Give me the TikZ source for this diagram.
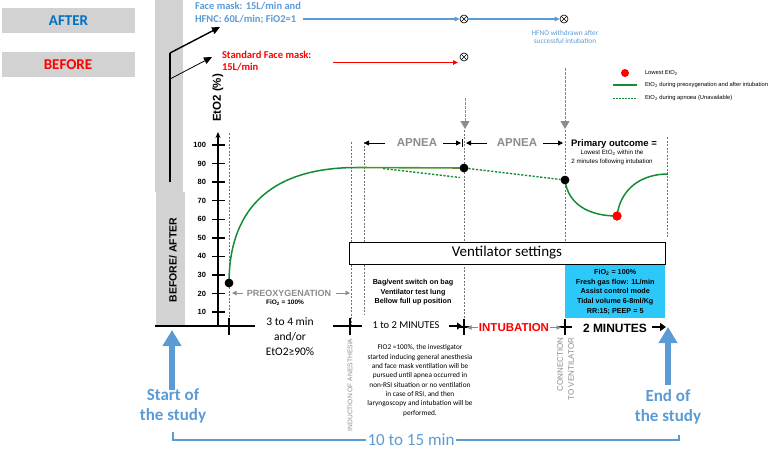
\documentclass[tikz,border=0pt]{standalone}
\usepackage{fontspec}
\setmainfont{Liberation Sans}
\newfontfamily\calibri{Carlito}
\usetikzlibrary{arrows.meta}
\definecolor{ablue}{RGB}{0,112,192}
\definecolor{lblue}{RGB}{91,155,213}
\definecolor{boxgray}{RGB}{210,210,210}
\definecolor{tgray}{RGB}{140,140,140}
\definecolor{ggray}{RGB}{115,115,115}
\definecolor{cgreen}{RGB}{20,140,55}
\definecolor{ogreen}{RGB}{80,145,45}
\definecolor{cyanbox}{RGB}{45,200,250}
\newcommand\fsz[2]{\fontsize{#1}{#2}\selectfont}
\begin{document}
\begin{tikzpicture}[x=1pt,y=-1pt,
  graybox/.style={fill=boxgray, minimum width=133pt, minimum height=25pt, inner sep=0pt, font=\calibri\bfseries\fsz{15}{18}},
  dotb/.style={circle, fill=black, minimum size=8.5pt, inner sep=0pt},
  dotr/.style={circle, fill=red, minimum size=9pt, inner sep=0pt},
  vguide/.style={ggray, line width=0.6pt, dash pattern=on 2pt off 1.5pt},
  etcurve/.style={cgreen, line width=1.5pt},
  etdash/.style={cgreen, line width=1.4pt, dash pattern=on 2.2pt off 1.6pt},
  baseln/.style={line width=2pt, black},
  crossmk/.style={line width=1.6pt, black},
  otim/.style={circle, draw=black, line width=0.6pt, minimum size=8pt, inner sep=0pt,
    path picture={\draw[line width=0.6pt] (path picture bounding box.north west) -- (path picture bounding box.south east) (path picture bounding box.north east) -- (path picture bounding box.south west);}},
  gtip/.style={-{Triangle[length=5pt,width=4.5pt]}},
  txt/.style={inner sep=0pt, outer sep=0pt},
]
\useasboundingbox (0,0) rectangle (784,453);

% --- before / after boxes
\node[graybox, text=ablue] (after) at (68.5,20.5) {AFTER};
\node[graybox, text=red] (before) at (68,64.5) {BEFORE};

% --- tall gray bar
\fill[boxgray] (155,0) rectangle (183,192);
\fill[boxgray] (156,192) rectangle (185,326);
\coordinate (bj) at (170,182);
\coordinate (bk) at (170,53);
\coordinate (bk2) at (170,79);
\coordinate (aftTip) at (220,27);
\coordinate (befTip) at (212,57);
\draw[line width=1.4pt] (bj) -- (bk);
\draw[line width=1.4pt, -{Triangle[length=8pt,width=7pt]}] (bk) -- (aftTip);
\draw[line width=0.8pt, -{Triangle[length=8pt,width=7pt]}] (bk2) -- (befTip);
\node[txt, rotate=90, font=\bfseries\fsz{10.5}{12}] (ba) at (173,260) {BEFORE/ AFTER};
\node[txt, rotate=90, font=\bfseries\fsz{11.5}{13}] (eto) at (218,98) {EtO2 (\%)};

% --- top labels and lines
\node[txt, anchor=west, align=left, text=lblue, font=\calibri\bfseries\fsz{10.5}{13}] (fm) at (195,13.5) {Face mask: 15L/min and\\HFNC: 60L/min; FiO2=1};
\node[txt, anchor=west, align=left, text=red, font=\calibri\bfseries\fsz{10.5}{12}] (sfm) at (222,61) {Standard Face mask:\\15L/min};
\node[otim] (x1) at (464,19) {};
\node[otim] (x2) at (564,19) {};
\node[otim] (x3) at (464,57) {};
\coordinate (bl0) at (303,19);
\coordinate (rl0) at (333,62.5);
\coordinate (rl1) at (458,62.5);
\draw[lblue, line width=1.3pt, gtip] (bl0) -- (x1);
\draw[lblue, line width=1.3pt, gtip] (x1) -- (x2);
\draw[red, line width=1.3pt, gtip] (rl0) -- (rl1);
\node[txt, align=center, text=lblue, font=\calibri\fsz{7.3}{8.5}] (hfno) at (565,37) {HFNO withdrawn after\\successful intubation};

% --- legend
\node[dotr, minimum size=8pt] (lgdot) at (625,73) {};
\node[txt, anchor=west, font=\fsz{5.8}{7}] (lg1) at (645,73) {Lowest EtO\textsubscript{2}};
\coordinate (lga0) at (613,85); \coordinate (lga1) at (637,85);
\coordinate (lgb0) at (613,98); \coordinate (lgb1) at (637,98);
\draw[etcurve, line width=1.2pt] (lga0) -- (lga1);
\draw[etdash, line width=1pt, dash pattern=on 1.8pt off 1.2pt] (lgb0) -- (lgb1);
\node[txt, anchor=west, font=\fsz{5.8}{7}] (lg2) at (645,85) {EtO\textsubscript{2} during preoxygenation and after intubation};
\node[txt, anchor=west, font=\fsz{5.8}{7}] (lg3) at (645,98) {EtO\textsubscript{2} during apnoea (Unavailable)};

% --- gray dashed arrows from top
\coordinate (ga0) at (465,98); \coordinate (ga1) at (465,129);
\coordinate (gb0) at (565,68); \coordinate (gb1) at (565,129);
\draw[tgray, line width=1pt, dash pattern=on 2.5pt off 1.5pt, -{Triangle[length=8pt,width=9pt]}] (ga0) -- (ga1);
\draw[tgray, line width=1pt, dash pattern=on 2.5pt off 1.5pt, -{Triangle[length=8pt,width=9pt]}] (gb0) -- (gb1);

% --- vertical guides
\draw[vguide] (229,133) -- (229,326);
\draw[vguide] (351,142) -- (351,326);
\draw[vguide] (364,142) -- (364,315);
\draw[vguide] (464,130) -- (464,318);
\draw[vguide] (565,130) -- (565,318);
\draw[vguide] (667,137) -- (667,237);

% --- y axis
\draw[line width=1.5pt, -{Stealth[length=6pt,width=5pt]}] (218,326) -- (218,132);
\foreach \v in {10,20,...,100} {
  \pgfmathsetmacro\yy{330.6-1.856*\v}
  \draw[line width=1.4pt] (212,\yy) -- (225,\yy);
  \node[txt, anchor=east, font=\bfseries\fsz{7.5}{8}] (yl\v) at (206,\yy) {\v};
}

% --- curves
\node[dotb] (d0) at (229,283) {};
\node[dotb] (d1) at (464,168) {};
\node[dotb] (d2) at (565,180) {};
\node[dotr] (dr) at (617,216) {};
\coordinate (c1) at (357,167.5);
\coordinate (c2) at (668,174);
\coordinate (dd0) at (383,168.5);
\coordinate (dd1) at (460,177.5);
\draw[etcurve] (d0.center) .. controls (229,225) and (255,167.5) .. (c1);
\draw[ogreen, line width=1.6pt] (c1) -- (d1.center);
\draw[etdash] (dd0) -- (dd1);
\draw[etdash] (d1) -- (d2);
\draw[etcurve] (d2.center) .. controls (568,205) and (590,216) .. (dr.center);
\draw[etcurve] (dr.center) .. controls (620,190) and (640,174) .. (c2);
\node[dotb] at (d0) {};
\node[dotb] at (d1) {};
\node[dotb] at (d2) {};
\node[dotr] at (dr) {};

% --- APNEA labels
\node[txt, text=tgray, font=\bfseries\fsz{11.5}{13}] (ap1) at (417,143) {APNEA};
\node[txt, text=tgray, font=\bfseries\fsz{11.5}{13}] (ap2) at (517,143) {APNEA};
\coordinate (a1l) at (385,143); \coordinate (a1lt) at (364,143);
\coordinate (a1r) at (443,143); \coordinate (a1rt) at (461,143);
\coordinate (a2l) at (487,143); \coordinate (a2lt) at (466,143);
\coordinate (a2r) at (543,143); \coordinate (a2rt) at (563,143);
\draw[line width=0.9pt, -{Triangle[length=5pt,width=5pt]}] (a1l) -- (a1lt);
\draw[line width=0.9pt, -{Triangle[length=5pt,width=5pt]}] (a1r) -- (a1rt);
\draw[line width=0.9pt, -{Triangle[length=5pt,width=5pt]}] (a2l) -- (a2lt);
\draw[line width=0.9pt, -{Triangle[length=5pt,width=5pt]}] (a2r) -- (a2rt);
\draw[line width=0.9pt] (462,139) -- (462,147);

\node[txt, font=\bfseries\fsz{9.5}{11}] (po) at (614,144) {Primary outcome =};
\node[txt, align=center, font=\fsz{6.2}{9}] (po2) at (612,157.5) {Lowest EtO\textsubscript{2} within the\\2 minutes following intubation};

% --- ventilator settings
\node[draw=black, fill=white, line width=0.8pt, minimum width=316pt, minimum height=22pt, inner sep=0pt, font=\calibri\fsz{15}{17}] (vent) at (507,253) {Ventilator settings};
\node[fill=cyanbox, minimum width=100pt, minimum height=53pt, inner sep=0pt, anchor=north west] (cyan) at (565,265) {};
\node[txt, align=center, font=\bfseries\fsz{7.2}{9.75}] (cyant) at (cyan.center) {FiO\textsubscript{2} = 100\%\\Fresh gas flow: 1L/min\\Assist control mode\\Tidal volume 6-8ml/Kg\\RR:15; PEEP = 5};

\node[txt, align=center, font=\bfseries\fsz{7.2}{9.5}] (bag) at (413,292.5) {Bag/vent switch on bag\\Ventilator test lung\\Bellow full up position};

% --- preoxygenation
\node[txt, text=tgray, font=\bfseries\fsz{9}{10}] (preo) at (289,293) {PREOXYGENATION};
\coordinate (pl) at (243,293); \coordinate (plt) at (232,293);
\coordinate (pr) at (336,293); \coordinate (prt) at (350,293);
\draw[tgray, line width=0.9pt, -{Triangle[length=4.5pt,width=4.5pt]}] (pl) -- (plt);
\draw[tgray, line width=0.9pt, -{Triangle[length=4.5pt,width=4.5pt]}] (pr) -- (prt);
\node[txt, font=\bfseries\fsz{6.5}{7}] (pfio) at (285,302.5) {FiO\textsubscript{2} = 100\%};

% --- time axis
\coordinate (t0) at (155,326); \coordinate (t1) at (255,326);
\coordinate (t2) at (333,326); \coordinate (t3) at (362,326);
\coordinate (t4) at (449,326); \coordinate (t5) at (462,326);
\coordinate (t6) at (652,327); \coordinate (t7) at (666,327);
\draw[baseln] (t0) -- (t1);
\draw[baseln] (t2) -- (t3);
\draw[line width=2.4pt, -{Triangle[length=5pt,width=7pt]}] (t4) -- (t5);
\draw[line width=2.4pt, -{Triangle[length=6pt,width=8pt]}] (t6) -- (t7);
\draw[crossmk] (229,318) -- (229,335);
\draw[crossmk] (350,318) -- (350,335);
\draw[crossmk] (464,319) -- (464,335);
\draw[crossmk] (459,327) -- (470,327);
\draw[crossmk] (565,319) -- (565,335);
\draw[crossmk] (559,327) -- (572,327);

\node[txt, align=center, font=\calibri\fsz{11.5}{15}] (t34) at (290,337) {3 to 4 min\\and/or\\EtO2≥90\%};
\node[txt, font=\calibri\fsz{10.5}{12}] (t12) at (406,325) {1 to 2 MINUTES};
\node[txt, text=red, font=\bfseries\fsz{11.5}{13}] (intub) at (514,327.5) {INTUBATION};
\coordinate (il) at (478,327.5); \coordinate (ilt) at (467,327.5);
\coordinate (ir) at (550,327.5); \coordinate (irt) at (561,327.5);
\draw[tgray, line width=0.9pt, -{Triangle[length=4.5pt,width=4.5pt]}] (il) -- (ilt);
\draw[tgray, line width=0.9pt, -{Triangle[length=4.5pt,width=4.5pt]}] (ir) -- (irt);
\node[txt, font=\bfseries\fsz{12}{13}] (t2m) at (615,328) {2 MINUTES};

\node[txt, align=center, font=\calibri\fsz{7.3}{9.3}] (para) at (420,380.5) {FIO2 =100\%, the investigator\\started inducing general anesthesia\\and face mask ventilation will be\\pursued until apnea occurred in\\non-RSI situation or no ventilation\\in case of RSI,  and then\\laryngoscopy and intubation will be\\performed.};

\node[txt, rotate=90, text=tgray, font=\fsz{6.7}{7}] (ind) at (350,385) {INDUCTION OF ANESTHESIA};
\node[txt, rotate=90, align=right, text=tgray, font=\fsz{8}{11}] (conn) at (565.5,369) {CONNECTION\\TO VENTILATOR};

% --- start / end
\coordinate (sa0) at (172,390); \coordinate (sa1) at (172,330);
\coordinate (ea0) at (668,385); \coordinate (ea1) at (668,327);
\draw[lblue, line width=5.5pt, -{Triangle[length=16pt,width=18pt]}] (sa0) -- (sa1);
\draw[lblue, line width=5.5pt, -{Triangle[length=16pt,width=18pt]}] (ea0) -- (ea1);
\node[txt, align=center, text=lblue, font=\calibri\bfseries\fsz{17}{20}] (start) at (173,406) {Start of\\the study};
\node[txt, align=center, text=lblue, font=\calibri\bfseries\fsz{17}{20}] (endst) at (668,407) {End of\\the study};

\node[txt, inner xsep=1.5pt, text=lblue, font=\calibri\fsz{17}{19}] (ten) at (411,440) {10 to 15 min};
\draw[lblue, line width=2.5pt] (173,432) |- (ten.west);
\draw[lblue, line width=2.5pt] (ten.east) -| (679,435);
\end{tikzpicture}
\end{document}
